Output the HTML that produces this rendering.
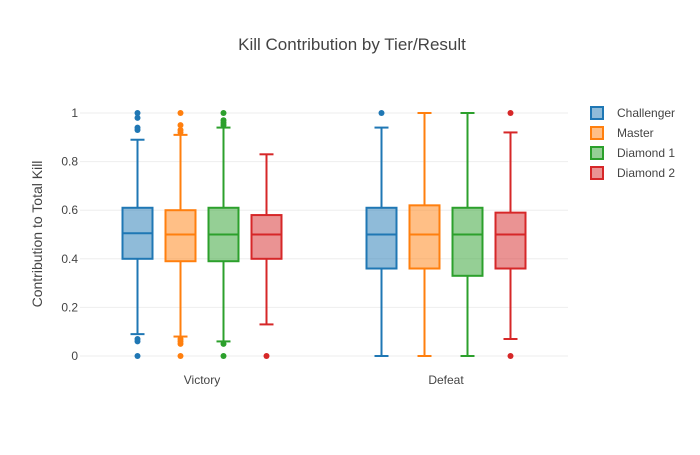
<!DOCTYPE html>
<html><head><meta charset="utf-8"><style>
body{margin:0;background:#fff;font-family:"Liberation Sans",sans-serif}
svg text{font-family:"Liberation Sans",sans-serif;fill:#444}
</style></head><body>
<svg id="c" width="700" height="450">
<text x="352" y="50" text-anchor="middle" font-size="17">Kill Contribution by Tier/Result</text>
<g id="grid"></g><g id="boxes"></g>
<text transform="translate(42,234) rotate(-90)" text-anchor="middle" font-size="14">Contribution to Total Kill</text>
<g id="legend"></g>
</svg>
<script>
const categories=["Victory","Defeat"];
const seriesNames=["Challenger","Master","Diamond 1","Diamond 2"];
const colors=["#1f77b4","#ff7f0e","#2ca02c","#d62728"];
const yTicks=[0,0.2,0.4,0.6,0.8,1];
const yTickLabels=["0","0.2","0.4","0.6","0.8","1"];
// [lowerWhisker,q1,median,q3,upperWhisker] per series per category
const challengerStats=[[0.09,0.40,0.505,0.61,0.89],[0,0.36,0.50,0.61,0.94]];
const masterStats=[[0.08,0.39,0.50,0.60,0.91],[0,0.36,0.50,0.62,1]];
const diamond1Stats=[[0.06,0.39,0.50,0.61,0.94],[0,0.33,0.50,0.61,1]];
const diamond2Stats=[[0.13,0.40,0.50,0.58,0.83],[0.07,0.36,0.50,0.59,0.92]];
const challengerOutliers=[[0,0.06,0.07,0.93,0.94,0.98,1],[1]];
const masterOutliers=[[0,0.05,0.06,0.07,0.92,0.93,0.95,1],[]];
const diamond1Outliers=[[0,0.05,0.95,0.96,0.97,1],[]];
const diamond2Outliers=[[0],[0,1]];
const stats=[challengerStats,masterStats,diamond1Stats,diamond2Stats];
const outliers=[challengerOutliers,masterOutliers,diamond1Outliers,diamond2Outliers];
const NS="http://www.w3.org/2000/svg";
const X0=80,X1=568,Y0=356,Y1=113;
const y=v=>Y0-(Y0-Y1)*v;
const catW=(X1-X0)/categories.length;
const xc=i=>X0+catW*(i+0.5);
const off=s=>(s-1.5)*43;
function mk(p,t,a){const e=document.createElementNS(NS,t);for(const k in a)e.setAttribute(k,a[k]);p.appendChild(e);return e;}
const g=document.getElementById('grid');
yTicks.forEach((t,i)=>{
 const l=mk(g,'line',{x1:X0,x2:X1,y1:y(t),y2:y(t),stroke:'#eee'});
 
 
 const tx=mk(g,'text',{x:X0-2,y:y(t)+4,'text-anchor':'end','font-size':12});
 tx.textContent=yTickLabels[i];
 
 
});
categories.forEach((c,i)=>{
 const tx=mk(g,'text',{x:xc(i),y:384,'text-anchor':'middle','font-size':12});
 tx.textContent=c;
 
 
});
const b=document.getElementById('boxes');
stats.forEach((ser,s)=>{
 ser.forEach((st,i)=>{
  const cx=xc(i)+off(s),hw=15,col=colors[s];
  const grp=mk(b,'g',{});
  
  
  mk(grp,'line',{x1:cx,x2:cx,y1:y(st[0]),y2:y(st[1]),stroke:col,'stroke-width':2});
  mk(grp,'line',{x1:cx,x2:cx,y1:y(st[3]),y2:y(st[4]),stroke:col,'stroke-width':2});
  mk(grp,'line',{x1:cx-7,x2:cx+7,y1:y(st[0]),y2:y(st[0]),stroke:col,'stroke-width':2});
  mk(grp,'line',{x1:cx-7,x2:cx+7,y1:y(st[4]),y2:y(st[4]),stroke:col,'stroke-width':2});
  mk(grp,'rect',{x:cx-hw,y:y(st[3]),width:2*hw,height:y(st[1])-y(st[3]),fill:col,'fill-opacity':0.5,stroke:col,'stroke-width':2});
  mk(grp,'line',{x1:cx-hw,x2:cx+hw,y1:y(st[2]),y2:y(st[2]),stroke:col,'stroke-width':2});
  outliers[s][i].forEach(v=>{
   const d=mk(grp,'circle',{cx:cx,cy:y(v),r:3,fill:col});
   
   
  });
 });
});
const lg=document.getElementById('legend');
seriesNames.forEach((n,s)=>{
 const gy=113+s*20;
 const e=mk(lg,'g',{});
 
 
 mk(e,'rect',{x:591,y:gy-6,width:12,height:12,fill:colors[s],'fill-opacity':0.5,stroke:colors[s],'stroke-width':2});
 const t=mk(e,'text',{x:617,y:gy+4,'font-size':12});
 t.textContent=n;
});
</script>
</body></html>
